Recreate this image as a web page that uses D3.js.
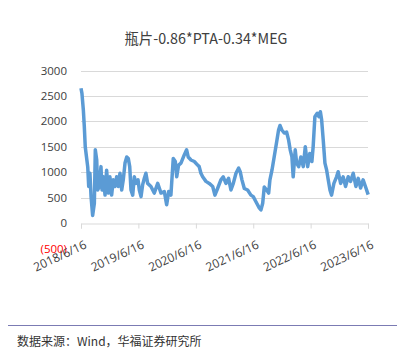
<!DOCTYPE html>
<html><head><meta charset="utf-8">
<script src="https://cdn.jsdelivr.net/npm/d3@7"></script>
<style>body{margin:0;background:#fff;}svg{display:block;}</style>
</head><body>
<svg id="c" width="403" height="356"></svg>
<script>
const title = "瓶片-0.86*PTA-0.34*MEG";
const source = "数据来源：Wind，华福证券研究所";
const yTicks = [-500, 0, 500, 1000, 1500, 2000, 2500, 3000];
const xTickDates = ["2018-06-16","2019-06-16","2020-06-16","2021-06-16","2022-06-16","2023-06-16"];
const xTickLabels = ["2018/6/16","2019/6/16","2020/6/16","2021/6/16","2022/6/16","2023/6/16"];
const dates = ["2018-06-16","2018-06-22","2018-07-01","2018-07-07","2018-07-13","2018-07-21","2018-07-29","2018-08-04","2018-08-12","2018-08-19","2018-08-29","2018-09-09","2018-09-15","2018-09-24","2018-09-30","2018-10-10","2018-10-21","2018-10-28","2018-11-05","2018-11-16","2018-11-26","2018-12-07","2018-12-17","2018-12-28",
"2019-01-07","2019-01-18","2019-01-29","2019-02-08","2019-02-19","2019-03-02","2019-03-12","2019-03-23","2019-04-03","2019-04-13","2019-04-22","2019-04-30","2019-05-11","2019-05-21","2019-06-01","2019-06-14","2019-06-22","2019-07-03","2019-07-13","2019-07-24","2019-08-03","2019-08-14","2019-09-04","2019-09-25","2019-10-17","2019-11-07","2019-11-28","2019-12-13","2019-12-26",
"2020-01-09","2020-01-24","2020-02-06","2020-02-15","2020-02-27","2020-03-13","2020-04-03","2020-04-18","2020-04-28","2020-05-16","2020-06-06","2020-06-27","2020-07-07","2020-07-18","2020-07-29","2020-08-19","2020-09-09","2020-10-01","2020-10-15","2020-11-01","2020-11-22","2020-12-07","2020-12-24",
"2021-01-10","2021-01-25","2021-02-09","2021-02-26","2021-03-15","2021-03-25","2021-04-05","2021-04-20","2021-05-11","2021-06-01","2021-06-16","2021-07-03","2021-07-24","2021-08-04","2021-08-15","2021-08-25","2021-09-09","2021-09-22","2021-09-30","2021-10-13","2021-10-27","2021-11-12","2021-11-24","2021-12-03","2021-12-15","2021-12-30",
"2022-01-14","2022-01-27","2022-02-06","2022-02-17","2022-02-25","2022-03-10","2022-03-19","2022-04-01","2022-04-15","2022-04-30","2022-05-13","2022-05-28","2022-06-11","2022-06-24","2022-07-02","2022-07-13","2022-07-28","2022-08-08","2022-08-17","2022-08-25","2022-09-04","2022-09-15","2022-09-26","2022-10-06","2022-10-17","2022-10-27","2022-11-11","2022-11-28","2022-12-08","2022-12-24",
"2023-01-09","2023-01-24","2023-02-10","2023-02-25","2023-03-14","2023-03-31","2023-04-15","2023-04-30","2023-05-16","2023-06-03","2023-06-17"];
const values = [2650,2550,2220,1900,1500,1300,1100,720,980,520,150,390,1440,1240,650,720,1110,650,910,550,1040,590,910,550,
850,720,910,720,980,650,850,1180,1300,1270,1110,650,550,910,780,850,650,520,750,880,980,780,720,590,780,590,620,360,620,
550,1270,1210,910,1140,1180,1340,1440,1300,1240,1210,1140,1110,980,910,820,780,720,550,680,850,910,780,
880,650,780,980,1080,1010,850,680,650,550,520,420,300,260,390,710,650,590,850,1040,1300,1600,1830,1920,1830,1770,
1790,1630,1440,1300,910,1440,1180,1110,1300,1110,1500,1110,1370,1210,1500,2090,2160,2090,2190,2030,1640,1180,1040,850,650,550,780,910,1010,780,
910,720,910,820,980,720,880,690,850,690,560];

const parse = d3.timeParse("%Y-%m-%d");
const data = dates.map((d,i)=>({date:parse(d), v:values[i]}));
const svg = d3.select("#c");
const x = d3.scaleTime().domain([parse(xTickDates[0]), parse(xTickDates[xTickDates.length-1])]).range([81, 368]);
const y = d3.scaleLinear().domain([-500, 3000]).range([248.5, 70.5]);
const txt = "#404040";

svg.append("text").attr("x", 206).attr("y", 44).attr("text-anchor","middle")
  .attr("font-family","'Noto Sans CJK SC','Open Sans',sans-serif").attr("font-size", 15).attr("fill", txt)
  .attr("textLength", 163).attr("lengthAdjust","spacingAndGlyphs").text(title);

// gridlines
svg.append("g").selectAll("line").data(yTicks.filter(t=>t>0)).join("line")
  .attr("x1", 81).attr("x2", 368).attr("y1", d=>Math.round(y(d))+0.5).attr("y2", d=>Math.round(y(d))+0.5)
  .attr("stroke","#d9d9d9").attr("stroke-width",1);

// y labels
svg.append("g").selectAll("text").data(yTicks).join("text")
  .attr("x", 67).attr("y", d=>y(d)).attr("dy","0.35em").attr("text-anchor","end")
  .attr("font-family","'Open Sans',sans-serif").attr("font-size", 11.5)
  .attr("fill", d=>d<0?"#ff0000":txt).text(d=>d<0?"("+Math.abs(d)+")":d);

// x axis at 0
const xa = svg.append("g").attr("transform", `translate(0,${Math.round(y(0))+0.5})`)
  .call(d3.axisBottom(x).tickValues(xTickDates.map(parse)).tickSize(5).tickFormat(""));
xa.select(".domain").attr("stroke","#d9d9d9");
xa.selectAll(".tick line").attr("stroke","#d9d9d9");

// x labels
svg.append("g").selectAll("text").data(xTickDates).join("text")
  .attr("transform", (d)=>`translate(${x(parse(d))+3},${240}) rotate(-25)`)
  .attr("text-anchor","end").attr("dy","0.7em")
  .attr("font-family","'Open Sans',sans-serif").attr("font-size", 12).attr("fill", txt)
  .text((d,i)=>xTickLabels[i]);

// line
svg.append("path").datum(data)
  .attr("d", d3.line().x(d=>x(d.date)).y(d=>y(d.v)))
  .attr("fill","none").attr("stroke","#5b9bd5").attr("stroke-width",3.5).attr("stroke-linejoin","round");

// footer
svg.append("line").attr("x1",8).attr("x2",397).attr("y1",325.5).attr("y2",325.5).attr("stroke","#7b7bb3").attr("stroke-width",1);
svg.append("text").attr("x",17).attr("y",346).attr("font-family","'Noto Sans CJK SC',sans-serif")
  .attr("font-size",12).attr("fill","#333").text(source);
</script>
</body></html>
